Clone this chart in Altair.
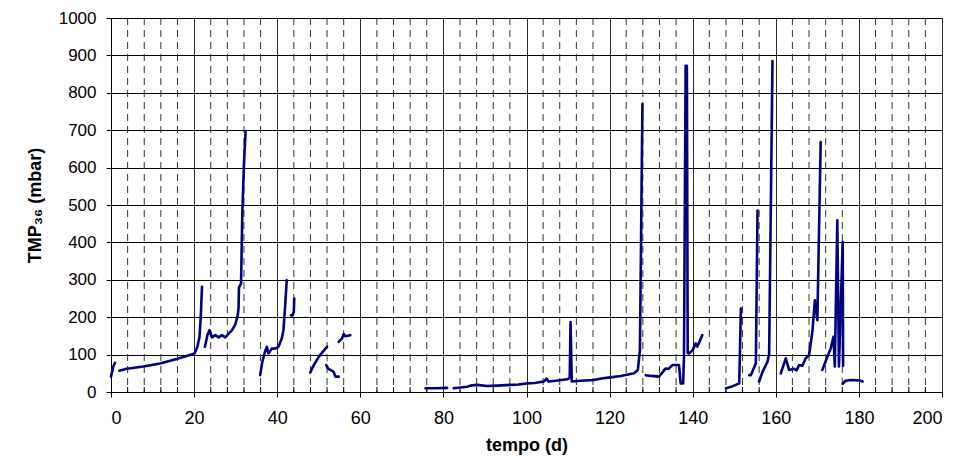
import altair as alt
import pandas as pd

# ---- data (day, TMP36 in mbar), one list pair per run of data ----
s01_day = [0.0, 0.56, 0.96]
s01_tmp = [41, 68, 78]
s02_day = [2.0, 3.8, 7.8, 11.8, 15.8, 19.0, 20.1, 20.8, 21.3, 21.6, 21.9]
s02_tmp = [57, 62, 68, 76, 88, 99, 103, 121, 147, 201, 281]
s03_day = [22.6, 23.2, 23.7, 24.3, 25.1, 25.9, 26.7, 27.5, 28.3, 29.1, 29.9, 30.5, 30.7, 30.8, 31.3, 31.6, 32.0, 32.4]
s03_tmp = [121, 152, 165, 146, 152, 146, 152, 146, 156, 165, 180, 205, 225, 280, 290, 476, 610, 698]
s04_day = [35.9, 36.4, 37.0, 37.5, 37.9, 38.7, 39.5, 40.3, 41.1, 41.5, 41.9, 42.3]
s04_tmp = [45, 80, 105, 121, 103, 116, 116, 121, 143, 165, 228, 299]
s05_day = [43.3, 43.7, 44.0, 44.1]
s05_tmp = [205, 205, 215, 250]
s06_day = [47.95, 48.8, 50.0, 51.0, 52.0]
s06_tmp = [52, 72, 94, 108, 121]
s07_day = [51.8, 52.3, 52.8, 53.6, 54.0, 54.8]
s07_tmp = [72, 62, 59, 54, 41, 41]
s08_day = [54.8, 55.3, 55.6, 56.0, 56.4, 57.6]
s08_tmp = [134, 140, 143, 155, 149, 152]
s09_day = [75.7, 78.0, 80.9]
s09_tmp = [10, 10, 11]
s10_day = [82.5, 84.0, 85.7, 86.5, 88.1, 90.5, 93.0, 96.1, 98.0, 100.2, 102.0, 104.2, 104.8, 105.3, 107.0,
           109.8, 110.4, 110.6, 110.9, 113.0, 116.2, 118.0, 120.2, 122.7, 125.9, 126.8, 127.3, 127.9]
s10_tmp = [10, 12, 14, 17, 19, 16, 17, 19, 20, 23, 24, 28, 36, 28, 30,
           34, 38, 187, 28, 30, 32, 36, 39, 43, 50, 59, 112, 770]
s11_day = [128.7, 130.0, 131.9, 133.5, 134.2, 135.1, 136.7, 137.1, 137.7, 137.9, 138.3, 138.6, 138.8,
           139.1, 140.0, 140.7, 141.1, 142.3]
s11_tmp = [45, 43, 41, 63, 62, 72, 72, 23, 23, 94, 872, 872, 104,
           103, 112, 130, 121, 152]
s12_day = [148.0, 149.5, 151.2, 151.6]
s12_tmp = [10, 15, 23, 223]
s13_day = [153.6, 154.0, 155.2, 155.6]
s13_tmp = [45, 45, 77, 485]
s14_day = [156.0, 156.8, 158.0, 158.4, 159.2]
s14_tmp = [28, 54, 81, 103, 885]
s15_day = [161.2, 162.4, 163.2, 164.4, 165.0, 165.6, 166.4, 167.2, 168.0, 168.8, 169.4, 170.0, 170.8]
s15_tmp = [50, 90, 59, 62, 58, 72, 70, 90, 99, 161, 245, 192, 668]
s16_day = [171.2, 172.4, 173.2, 173.9, 174.2, 174.8, 175.2, 176.1, 176.2]
s16_tmp = [59, 94, 116, 148, 68, 459, 68, 401, 70]
s17_day = [176.1, 176.8, 178.1, 180.2, 180.9]
s17_tmp = [22, 30, 32, 31, 28]

segments = [
    (s01_day, s01_tmp), (s02_day, s02_tmp), (s03_day, s03_tmp), (s04_day, s04_tmp),
    (s05_day, s05_tmp), (s06_day, s06_tmp), (s07_day, s07_tmp), (s08_day, s08_tmp),
    (s09_day, s09_tmp), (s10_day, s10_tmp), (s11_day, s11_tmp), (s12_day, s12_tmp),
    (s13_day, s13_tmp), (s14_day, s14_tmp), (s15_day, s15_tmp), (s16_day, s16_tmp),
    (s17_day, s17_tmp),
]

x_major = [0, 20, 40, 60, 80, 100, 120, 140, 160, 180, 200]
y_major = [0, 100, 200, 300, 400, 500, 600, 700, 800, 900, 1000]
x_minor = [v for v in range(4, 200, 4) if v % 20 != 0]

rows = []
for k, (dd, tt) in enumerate(segments):
    for i, (d, t) in enumerate(zip(dd, tt)):
        rows.append({"day": d, "tmp": t, "seg": k, "i": i})
df = pd.DataFrame(rows)
minor_df = pd.DataFrame({"x": x_minor})

FONT = "Liberation Sans"
W, H = 831, 374

xscale = alt.Scale(domain=[0, 200], nice=False, zero=False)
yscale = alt.Scale(domain=[0, 1000], nice=False)

xaxis = alt.Axis(values=x_major, format="d", title="tempo (d)", grid=True, gridColor="#2a2a2a",
                 domainColor="#000000", tickColor="#000000", tickSize=5,
                 labelFont=FONT, labelFontSize=18, labelColor="#000000", labelPadding=12,
                 titleFont=FONT, titleFontSize=18, titleFontWeight="bold", titleColor="#000000",
                 titlePadding=9)
yaxis = alt.Axis(values=y_major, format="d", title="TMP₃₆ (mbar)", grid=True, gridColor="#000000",
                 domainColor="#000000", tickColor="#000000", tickSize=5,
                 labelFont=FONT, labelFontSize=17, labelColor="#000000", labelPadding=10,
                 titleFont=FONT, titleFontSize=18, titleFontWeight="bold", titleColor="#000000",
                 titlePadding=14)

minor_grid = alt.Chart(minor_df).mark_rule(color="#333333", strokeWidth=1, strokeDash=[7, 5]).encode(
    x=alt.X("x:Q", scale=xscale, axis=xaxis),
)
minor_ticks = alt.Chart(minor_df).mark_rule(color="#000000", strokeWidth=1).encode(
    x=alt.X("x:Q", scale=xscale),
    y=alt.value(H - 5),
    y2=alt.value(H),
)
line = alt.Chart(df).mark_line(color="#000080", strokeWidth=2.6, strokeJoin="round", strokeCap="round").encode(
    x=alt.X("day:Q", scale=xscale, axis=xaxis),
    y=alt.Y("tmp:Q", scale=yscale, axis=yaxis),
    detail="seg:N",
    order="i:Q",
)

chart = alt.layer(minor_grid, minor_ticks, line).properties(
    width=W, height=H,
    autosize=alt.AutoSizeParams(type="none"),
    padding={"left": 103, "top": 10, "right": 20, "bottom": 65},
    background="#ffffff",
).configure_view(stroke="#808080", strokeWidth=1)

chart.save("out.html", embed_options={"renderer": "svg", "actions": False})
